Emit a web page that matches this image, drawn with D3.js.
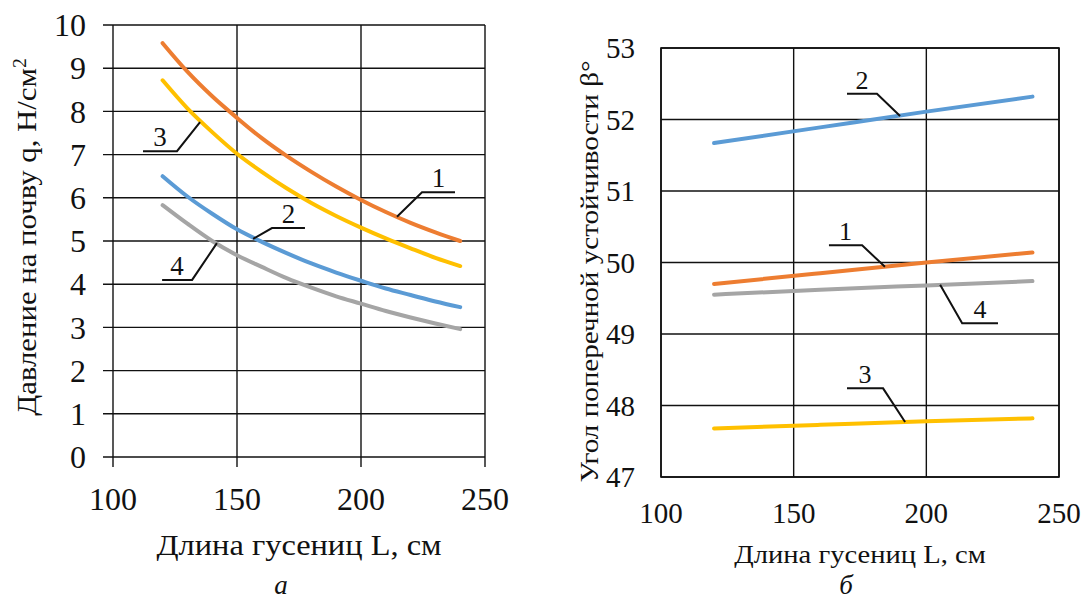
<!DOCTYPE html>
<html>
<head>
<meta charset="utf-8">
<script src="https://cdn.jsdelivr.net/npm/d3@7"></script>
<style>
  html, body { margin: 0; padding: 0; background: #fff; }
  svg { display: block; }
</style>
</head>
<body>
<svg id="chart" width="1092" height="602"></svg>
<script>
  // панель а: давление на почву q, Н/см2
  const lengthsA = [120, 130, 140, 150, 160, 170, 180, 190, 200, 210, 220, 230, 240];
  const pressure1 = [9.58, 8.92, 8.35, 7.85, 7.38, 6.97, 6.6, 6.26, 5.95, 5.67, 5.42, 5.2, 5.0];
  const pressure2 = [6.5, 6.03, 5.63, 5.27, 4.98, 4.72, 4.48, 4.27, 4.08, 3.9, 3.75, 3.6, 3.47];
  const pressure3 = [8.72, 8.07, 7.52, 7.02, 6.6, 6.22, 5.88, 5.58, 5.31, 5.06, 4.83, 4.61, 4.42];
  const pressure4 = [5.83, 5.4, 5.0, 4.67, 4.4, 4.14, 3.92, 3.72, 3.55, 3.38, 3.23, 3.09, 2.96];

  // панель б: угол поперечной устойчивости
  const lengthsB = [120, 160, 200, 240];
  const angle1 = [49.7, 49.85, 50.0, 50.14];
  const angle2 = [51.67, 51.89, 52.11, 52.32];
  const angle3 = [47.68, 47.73, 47.78, 47.82];
  const angle4 = [49.55, 49.62, 49.68, 49.74];

  const xTicks = [100, 150, 200, 250];
  const yTicksA = [0, 1, 2, 3, 4, 5, 6, 7, 8, 9, 10];
  const yTicksB = [47, 48, 49, 50, 51, 52, 53];

  // leader callouts, in data units: tip on the curve, elbow, end of the underline
  const calloutsA = [
    {label: '1', tip: [214.5, 5.56], elbow: [224.6, 6.13], end: 237.9},
    {label: '2', tip: [156.5, 5.05], elbow: [164.1, 5.3], end: 177.4},
    {label: '3', tip: [135.1, 7.75], elbow: [125.8, 7.08], end: 112.1},
    {label: '4', tip: [141.9, 4.95], elbow: [131.9, 4.1], end: 119.8}
  ];
  const calloutsB = [
    {label: '2', tip: [190.1, 52.05], elbow: [181.4, 52.36], end: 170.1},
    {label: '1', tip: [184.4, 49.94], elbow: [175.8, 50.24], end: 163.3},
    {label: '4', tip: [205.2, 49.69], elbow: [213.5, 49.15], end: 227.0},
    {label: '3', tip: [192.0, 47.77], elbow: [183.7, 48.24], end: 170.1}
  ];

  const colors = ['#ED7D31', '#5B9BD5', '#FFC000', '#A5A5A5'];
  const FONT = '"Liberation Serif", "DejaVu Serif", serif';

  const svg = d3.select('#chart');

  function label(sel) {
    return sel.attr('font-family', FONT).attr('fill', '#111');
  }

  function drawPanel(cfg) {
    const x = d3.scaleLinear().domain([100, 250]).range([cfg.left, cfg.right]);
    const y = d3.scaleLinear().domain(cfg.yDomain).range([cfg.bottom, cfg.top]);
    const g = svg.append('g');
    const ext = cfg.tickOut;

    // grid
    g.append('g').selectAll('line')
      .data(cfg.yTicks)
      .enter().append('line')
      .attr('x1', cfg.left - ext).attr('x2', cfg.right)
      .attr('y1', d => y(d)).attr('y2', d => y(d))
      .attr('stroke', '#111').attr('stroke-width', 1.4);
    g.append('g').selectAll('line')
      .data(xTicks)
      .enter().append('line')
      .attr('x1', d => x(d)).attr('x2', d => x(d))
      .attr('y1', cfg.top).attr('y2', cfg.bottom + ext)
      .attr('stroke', '#111').attr('stroke-width', 1.4);

    // tick labels
    g.append('g').selectAll('text')
      .data(cfg.yTicks)
      .enter().append('text')
      .call(label)
      .attr('x', cfg.yLabelX)
      .attr('y', d => y(d))
      .attr('dy', '0.35em')
      .attr('text-anchor', 'end')
      .attr('font-size', cfg.tickSize)
      .text(d => d);
    g.append('g').selectAll('text')
      .data(xTicks)
      .enter().append('text')
      .call(label)
      .attr('x', d => x(d))
      .attr('y', cfg.xLabelY)
      .attr('text-anchor', 'middle')
      .attr('font-size', cfg.tickSize)
      .text(d => d);

    // curves
    const line = d3.line()
      .x(d => x(d[0]))
      .y(d => y(d[1]))
      .curve(d3.curveMonotoneX);
    cfg.series.forEach((vals, i) => {
      g.append('path')
        .datum(cfg.lengths.map((L, j) => [L, vals[j]]))
        .attr('d', line)
        .attr('fill', 'none')
        .attr('stroke', colors[i])
        .attr('stroke-width', 4)
        .attr('stroke-linecap', 'round');
    });

    // callouts
    cfg.callouts.forEach(c => {
      const ex = x(c.elbow[0]), ey = y(c.elbow[1]);
      g.append('polyline')
        .attr('points', [[x(c.tip[0]), y(c.tip[1])], [ex, ey], [x(c.end), ey]].map(p => p.join(',')).join(' '))
        .attr('fill', 'none')
        .attr('stroke', '#111')
        .attr('stroke-width', 2);
      g.append('text')
        .call(label)
        .attr('x', (ex + x(c.end)) / 2)
        .attr('y', ey - 5)
        .attr('text-anchor', 'middle')
        .attr('font-size', cfg.calloutSize)
        .text(c.label);
    });

    // axis titles (the source glyphs are a little wider than the font, hence the x-stretch)
    g.append('text')
      .call(label)
      .attr('transform', 'translate(' + cfg.yTitleX + ',' + ((cfg.top + cfg.bottom) / 2 + cfg.yTitleShift) + ') rotate(-90) scale(' + cfg.yTitleStretch + ',1)')
      .attr('text-anchor', 'middle')
      .attr('font-size', cfg.yTitleSize)
      .html(cfg.yTitle);
    g.append('text')
      .call(label)
      .attr('transform', 'translate(' + cfg.xTitleX + ',' + cfg.xTitleY + ') scale(' + cfg.xTitleStretch + ',1)')
      .attr('text-anchor', 'middle')
      .attr('font-size', cfg.xTitleSize)
      .text('Длина гусениц L, см');
    g.append('text')
      .call(label)
      .attr('x', cfg.letterX)
      .attr('y', cfg.letterY)
      .attr('text-anchor', 'middle')
      .attr('font-size', 27)
      .attr('font-style', 'italic')
      .text(cfg.letter);

    if (cfg.frame) {
      g.append('rect')
        .attr('x', cfg.left).attr('y', cfg.top)
        .attr('width', cfg.right - cfg.left).attr('height', cfg.bottom - cfg.top)
        .attr('fill', 'none').attr('stroke', '#111').attr('stroke-width', 1.6);
    }
  }

  drawPanel({
    left: 113, right: 485, top: 25, bottom: 457, tickOut: 10,
    yDomain: [0, 10], yTicks: yTicksA,
    lengths: lengthsA, series: [pressure1, pressure2, pressure3, pressure4],
    callouts: calloutsA,
    tickSize: 32, calloutSize: 27,
    yTitleSize: 28, yTitleStretch: 1.1, xTitleSize: 30, xTitleStretch: 1.08,
    yLabelX: 86, xLabelY: 510,
    yTitle: 'Давление на почву q, Н/см<tspan baseline-shift="super" font-size="18">2</tspan>',
    yTitleX: 36, yTitleShift: -4,
    xTitleX: 299, xTitleY: 555,
    letter: 'а', letterX: 281, letterY: 594,
    frame: false
  });

  drawPanel({
    left: 661, right: 1059, top: 48, bottom: 477, tickOut: 0,
    yDomain: [47, 53], yTicks: yTicksB,
    lengths: lengthsB, series: [angle1, angle2, angle3, angle4],
    callouts: calloutsB,
    tickSize: 29, calloutSize: 26,
    yTitleSize: 26, yTitleStretch: 1.12, xTitleSize: 26, xTitleStretch: 1.1,
    yLabelX: 635, xLabelY: 523,
    yTitle: 'Угол поперечной устойчивости β°',
    yTitleX: 598, yTitleShift: 9,
    xTitleX: 860, xTitleY: 563,
    letter: 'б', letterX: 846, letterY: 594,
    frame: true
  });
</script>
</body>
</html>
